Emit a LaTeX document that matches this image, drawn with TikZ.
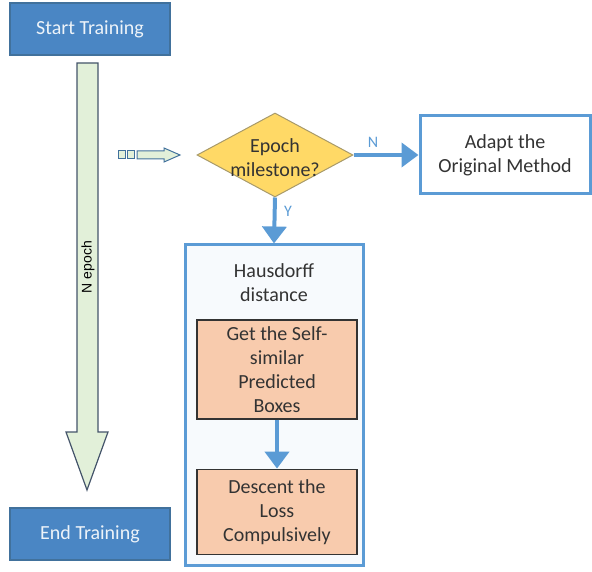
\documentclass[tikz,border=0pt]{standalone}
\usepackage{fontspec}
\setmainfont{Carlito}
\newfontfamily\arialfont{Liberation Sans}
\usetikzlibrary{positioning, arrows.meta, calc, shapes.geometric}
\definecolor{accent}{HTML}{4A86C4}
\definecolor{termline}{HTML}{41719C}
\definecolor{flow}{HTML}{5B9BD5}
\definecolor{textgray}{HTML}{333333}
\definecolor{gold}{HTML}{FFD966}
\definecolor{goldline}{HTML}{A89A6A}
\definecolor{salmon}{HTML}{F8CBAD}
\definecolor{mint}{HTML}{E2F0D9}
\definecolor{slate}{HTML}{44546A}
\definecolor{paleblue}{HTML}{F7FAFD}

\begin{document}
\begin{tikzpicture}[x=1pt, y=1pt,
      every node/.style={font=\fontsize{20}{24}\selectfont, align=center, text=textgray},
      term/.style={draw=termline, line width=1.2pt, fill=accent, text=white!90!accent, minimum width=160pt, minimum height=52pt},
      decision/.style={diamond, draw=goldline, line width=1pt, fill=gold, minimum width=156pt, minimum height=84pt, inner sep=0pt},
      plainbox/.style={draw=flow, line width=3pt, fill=white, minimum width=170pt, minimum height=78pt},
      frame/.style={draw=flow, line width=3pt, fill=paleblue, minimum width=178pt, minimum height=320pt},
      stepbox/.style={draw=textgray, line width=1.2pt, fill=salmon, minimum width=160pt, inner sep=1pt},
      flowarrow/.style={draw=flow, line width=4pt, -{Triangle[length=17pt, width=24pt]}},
      yn/.style={text=flow, font=\fontsize{16}{18}\selectfont},
      bigarrow/.style={draw=slate, line width=1.2pt, fill=mint, line join=miter},
      stripe/.style={draw=termline, line width=1pt, fill=mint}]
    \useasboundingbox (0,0) rectangle (592,-572);
    % left column
    \node[term] (start) at (90,-29) {Start Training};
    \node[term] (end) at (90,-534) {End Training};
    \draw[bigarrow] (77,-63) -- (98,-63) -- (98,-432) -- (108,-432) -- (87,-490)
      -- (66,-432) -- (77,-432) -- cycle;
    \node[rotate=90, text=black, font=\arialfont\fontsize{14}{16}\selectfont] (nep) at (88,-267) {N epoch};
    % small striped pointer
    \draw[stripe] (118,-151) rectangle (125,-159);
    \draw[stripe] (127,-151) rectangle (134,-159);
    \draw[stripe] (137,-151) -- (164,-151) -- (164,-148) -- (180,-155) -- (164,-162)
      -- (164,-159) -- (137,-159) -- cycle;
    % decision
    \node[decision] (mile) at (275,-155) {};
    \node (miletext) at (275,-158) {Epoch\\milestone?};
    \node[plainbox, right=65pt of mile] (adapt) {Adapt the\\Original Method};
    % hausdorff block
    \node[frame] (hd) at (274,-405) {};
    \node (hdtext) at (274,-283) {Hausdorff\\distance};
    \node[stepbox, minimum height=99pt] (self) at (277,-369.5) {Get the Self-\\similar\\Predicted\\Boxes};
    \node[stepbox, minimum height=85pt, below=49pt of self] (loss) {Descent the\\Loss\\Compulsively};
    \draw[flowarrow] (mile) -- (adapt) node[yn, pos=0.3, above=2pt] {N};
    \draw[flowarrow] (mile.south) -- (hd.north) node[yn, pos=0.3, right=4pt] {Y};
    \draw[flowarrow] (self) -- (loss);
  \end{tikzpicture}
\end{document}
